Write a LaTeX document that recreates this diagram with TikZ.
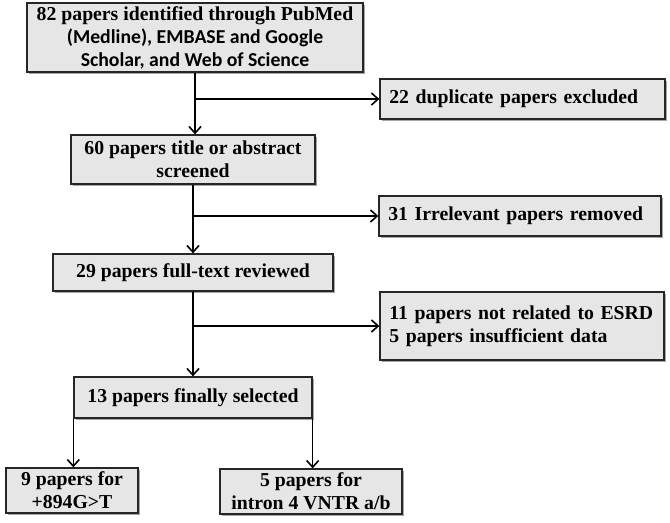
\documentclass[tikz,border=0pt]{standalone}
\usepackage{fontspec}
\setmainfont{Liberation Serif}
\newfontfamily\calibrifont{Carlito}
\usepackage{tikz}
\usetikzlibrary{arrows.meta, shadows}

\definecolor{boxgray}{HTML}{E6E6E6}
\definecolor{boxline}{HTML}{262626}

\tikzset{
    flowbox/.style={draw=boxline, fill=boxgray, line width=1pt,
        drop shadow={shadow xshift=1.3pt, shadow yshift=-1.3pt, fill=black, opacity=0.35},
        inner sep=0pt, align=center,
        font=\bfseries\fontsize{14.8}{17.3}\selectfont},
    sidebox/.style={flowbox, inner xsep=7pt, align=left},
    flow/.style={-{Straight Barb[length=5pt, width=9pt, line width=1.2pt]}, line width=0.9pt, draw=black}
}

\begin{document}
\begin{tikzpicture}[x=0.75pt, y=-0.75pt]
    % Page frame
    \useasboundingbox (0,0) rectangle (670,522);

    % Main column
    \node[flowbox, minimum width=252pt, minimum height=51.75pt] (search) at (195,37.5)
        {82 papers identified through PubMed\\
         {\calibrifont (Medline), EMBASE and Google}\\
         {\calibrifont Scholar, and Web of Science}};
    \node[flowbox, minimum width=183pt, minimum height=36.75pt] (screen) at (193,159.5)
        {60 papers title or abstract\\screened};
    \node[flowbox, minimum width=210pt, minimum height=27.75pt] (full) at (193,272.5)
        {29 papers full-text reviewed};
    \node[flowbox, minimum width=178.5pt, minimum height=30.75pt] (final) at (193,397.5)
        {13 papers finally selected};

    % Exclusions
    \node[sidebox, text width=199.75pt, minimum height=30pt] (dup) at (522.5,99)
        {22 duplicate papers excluded};
    \node[sidebox, text width=197.5pt, minimum height=30pt] (irrel) at (520,216)
        {31 Irrelevant papers removed};
    \node[sidebox, text width=199pt, minimum height=51pt] (excl) at (522,326)
        {11 papers not related to ESRD\\5 papers insufficient data};

    % Selected studies
    \node[flowbox, minimum width=99pt, minimum height=33.75pt] (g894) at (72,490.5)
        {9 papers for\\+894G>T};
    \node[flowbox, minimum width=136.5pt, minimum height=33.75pt] (vntr) at (311,491.5)
        {5 papers for\\intron 4 VNTR a/b};

    % Vertical flow
    \draw[flow] (search.south) -- (search.south |- screen.north);
    \draw[flow] (screen.south) -- (screen.south |- full.north);
    \draw[flow] (full.south) -- (full.south |- final.north);

    % Branches to the right
    \draw[flow] (search.south |- dup.west) -- (dup.west);
    \draw[flow] (screen.south |- irrel.west) -- (irrel.west);
    \draw[flow] (full.south |- excl.west) -- (excl.west);

    % Split at the bottom
    \draw[flow] (final.south west) -- (final.south west |- g894.north);
    \draw[flow] (final.south east) -- (final.south east |- vntr.north);
\end{tikzpicture}
\end{document}
